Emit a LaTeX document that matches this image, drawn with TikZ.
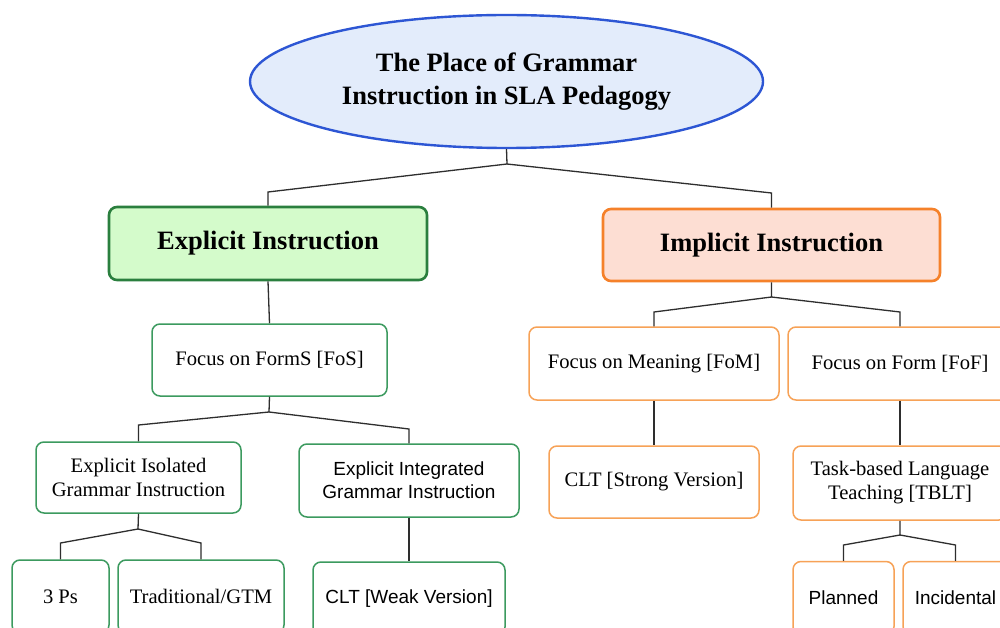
\documentclass[tikz,border=0pt]{standalone}
\usepackage{fontspec}
\setmainfont{Liberation Serif}
\newfontfamily\sansfont{Liberation Sans}
\usetikzlibrary{shapes.geometric}

\definecolor{rootfill}{HTML}{E3ECFB}
\definecolor{rootline}{HTML}{2D56D4}
\definecolor{explfill}{HTML}{D4FBCB}
\definecolor{explline}{HTML}{2A7F3E}
\definecolor{implfill}{HTML}{FDDED3}
\definecolor{implline}{HTML}{F5812A}
\definecolor{greenline}{HTML}{3C9A5F}
\definecolor{orangeline}{HTML}{F7A257}
\definecolor{linkcol}{HTML}{2E2E2E}

\tikzset{
  rootnode/.style={ellipse, draw=rootline, fill=rootfill, line width=2.4pt,
    inner sep=0pt, align=center, text=black,
    font=\fontsize{26.5}{33}\selectfont\bfseries},
  headbox/.style={rectangle, rounded corners=8pt, line width=2.6pt, inner sep=0pt,
    align=center, font=\fontsize{26.5}{30}\selectfont\bfseries},
  explhead/.style={headbox, draw=explline, fill=explfill},
  implhead/.style={headbox, draw=implline, fill=implfill},
  leafbox/.style={rectangle, rounded corners=8pt, line width=1.5pt, inner sep=0pt,
    fill=white, align=center, font=\fontsize{20.6}{24}\selectfont},
  gbox/.style={leafbox, draw=greenline},
  obox/.style={leafbox, draw=orangeline},
  sanstext/.style={font=\sansfont\fontsize{19}{23}\selectfont},
  link/.style={draw=linkcol, line width=1.3pt, line join=miter},
  sz/.style 2 args={minimum width=#1pt, minimum height=#2pt}
}

\begin{document}
\begin{tikzpicture}[x=1pt,y=1pt]
\useasboundingbox (0,0) rectangle (1000,-628);
\clip (0,0) rectangle (1000,-628);
\fill[white] (0,0) rectangle (1000,-628);

% root
\node[rootnode, sz={513}{133}] (root) at (506.5,-81.5)
  {The Place of Grammar\\Instruction in SLA Pedagogy};

% level 1
\node[explhead, sz={318}{73}] (expl) at (268,-243.5) {Explicit Instruction};
\node[implhead, sz={337}{72}] (impl) at (771.5,-245) {Implicit Instruction};

% explicit branch
\node[gbox, sz={235}{72}] (fos) at (269.5,-360) {Focus on FormS [FoS]};
\node[gbox, sz={205}{71}] (eigi) at (138.5,-477.5) {Explicit Isolated\\Grammar Instruction};
\node[gbox, sanstext, sz={220}{73}] (eint) at (409,-480.5) {Explicit Integrated\\Grammar Instruction};
\node[gbox, sz={97}{73}] (ps) at (60.5,-596.5) {3 Ps};
\node[gbox, sz={166}{73}] (trad) at (201,-596.5) {Traditional/GTM};
\node[gbox, sanstext, sz={192}{73}] (cltw) at (409,-598.5) {CLT [Weak Version]};

% implicit branch
\node[obox, sz={250}{73}] (fom) at (654,-363.5) {Focus on Meaning [FoM]};
\node[obox, sz={224}{73}] (fof) at (900,-363.5) {Focus on Form [FoF]};
\node[obox, sz={210}{72}] (clts) at (654,-482) {CLT [Strong Version]};
\node[obox, sz={214}{74}] (tblt) at (900,-483) {Task-based Language\\Teaching [TBLT]};
\node[obox, sanstext, sz={101}{73}] (plan) at (843.5,-598) {Planned};
\node[obox, sanstext, sz={105}{73}] (inci) at (955.5,-598) {Incidental};

% branching points
\coordinate (j0) at (507,-164);
\coordinate (j1) at (771.5,-297);
\coordinate (j2) at (269,-412);
\coordinate (j3) at (138,-529);
\coordinate (j4) at (900,-535);

% connectors
\draw[link] (root.south) -- (j0) -- (expl.north |- 0,-192) -- (expl.north);
\draw[link] (j0) -- (impl.north |- 0,-193) -- (impl.north);
\draw[link] (expl.south) -- (fos.north);
\draw[link] (impl.south) -- (j1) -- (fom.north |- 0,-312) -- (fom.north);
\draw[link] (j1) -- (fof.north |- 0,-312) -- (fof.north);
\draw[link] (fos.south) -- (j2) -- (eigi.north |- 0,-425) -- (eigi.north);
\draw[link] (j2) -- (eint.north |- 0,-429) -- (eint.north);
\draw[link] (eigi.south) -- (j3) -- (ps.north |- 0,-543) -- (ps.north);
\draw[link] (j3) -- (trad.north |- 0,-543) -- (trad.north);
\draw[link] (eint.south) -- (cltw.north);
\draw[link] (fom.south) -- (clts.north);
\draw[link] (fof.south) -- (tblt.north);
\draw[link] (tblt.south) -- (j4) -- (plan.north |- 0,-545) -- (plan.north);
\draw[link] (j4) -- (inci.north |- 0,-545) -- (inci.north);
\end{tikzpicture}
\end{document}
